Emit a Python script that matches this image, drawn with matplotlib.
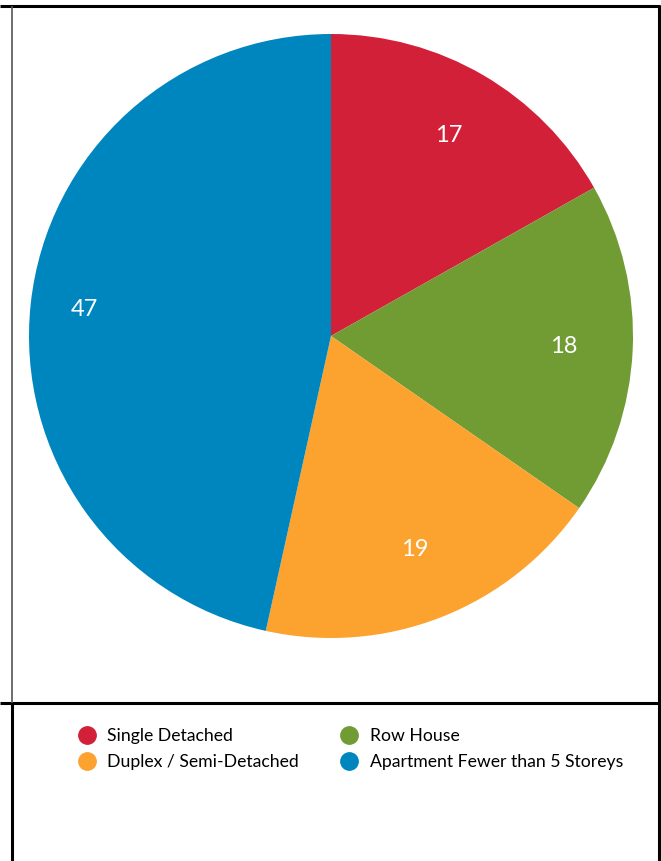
import matplotlib
matplotlib.use("Agg")
import matplotlib.pyplot as plt
from matplotlib.lines import Line2D
import numpy as np

plt.rcParams['font.family'] = ['Lato', 'DejaVu Sans']

categories = ["Single Detached", "Row House", "Duplex / Semi-Detached", "Apartment Fewer than 5 Storeys"]
values = [17, 18, 19, 47]
colors = ["#D22039", "#719B33", "#FCA22F", "#0086BE"]
label_dist = [0.77, 0.77, 0.76, 0.82]

W, H = 661, 861
fig = plt.figure(figsize=(W / 100, H / 100), dpi=100)


def px(x, y):
    # pixel position (from top-left) -> figure fraction
    return x / W, 1 - y / H


# pie area
cx, cy, r = 331, 336, 302
ax = fig.add_axes([(cx - r) / W, (H - cy - r) / H, 2 * r / W, 2 * r / H])
wedges, texts = ax.pie(values, colors=colors, startangle=90, counterclock=False,
                       labels=[str(v) for v in values], labeldistance=1.0,
                       radius=1, wedgeprops=dict(linewidth=0))
for w, t, d in zip(wedges, texts, label_dist):
    ang = np.deg2rad((w.theta1 + w.theta2) / 2)
    t.set_position((d * np.cos(ang), d * np.sin(ang)))
    t.set_color("white")
    t.set_fontsize(17)
    t.set_ha("center")
    t.set_va("center")
ax.set_xlim(-1, 1)
ax.set_ylim(-1, 1)
ax.set_aspect("equal")
ax.axis("off")

# frame lines
def hline(y, x0, x1, color="black", lw=2.2):
    fig.add_artist(Line2D([px(x0, y)[0], px(x1, y)[0]], [px(x0, y)[1], px(x1, y)[1]],
                          transform=fig.transFigure, color=color, lw=lw, solid_capstyle="butt"))


def vline(x, y0, y1, color="black", lw=2.2):
    fig.add_artist(Line2D([px(x, y0)[0], px(x, y1)[0]], [px(x, y0)[1], px(x, y1)[1]],
                          transform=fig.transFigure, color=color, lw=lw, solid_capstyle="butt"))


hline(6, 0, 660)
hline(703, 0, 660)
vline(12, 6, 703, color="#555555", lw=1.2)
vline(12, 703, 861)
vline(659, 5, 861)

# legend, filled row by row
order = [0, 2, 1, 3]
handles = [Line2D([], [], marker="o", linestyle="none", markersize=12.5,
                  markerfacecolor=colors[i], markeredgecolor=colors[i]) for i in order]
labels = [categories[i] for i in order]
leg = fig.legend(handles, labels, ncol=2, loc="upper left",
                 bbox_to_anchor=px(78, 728), frameon=False, fontsize=12.7,
                 borderpad=0, borderaxespad=0, handlelength=1.0, handletextpad=0.67,
                 columnspacing=2.35, labelspacing=0.58)

fig.savefig("out.png", dpi=100)
